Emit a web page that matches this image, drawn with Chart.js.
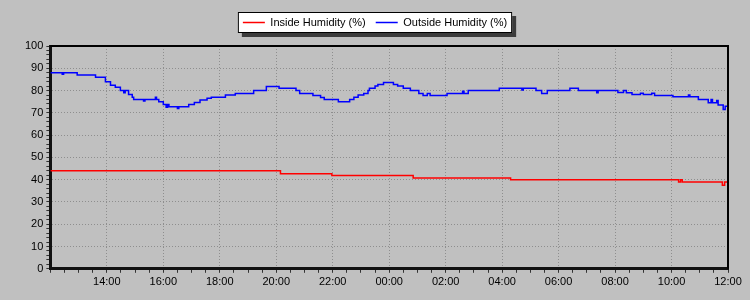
<!DOCTYPE html>
<html>
<head>
<meta charset="utf-8">
<script src="https://cdn.jsdelivr.net/npm/chart.js@4.4.1/dist/chart.umd.min.js"></script>
<style>
  html, body { margin: 0; padding: 0; background: #c0c0c0; }
  #wrap { width: 750px; height: 300px; }
</style>
</head>
<body>
<div id="wrap"><canvas id="humidityChart" width="750" height="300"></canvas></div>
<script>
// hours after 12:00 on day one (0 = 12:00, 24 = 12:00 next day)
const insideTimes = [0, 8.15, 9.97, 12.85, 16.3, 22.25, 22.32, 22.38, 23.8, 23.88, 24];
const insideValues = [44, 42.7, 41.9, 40.8, 40, 39, 40, 39, 37.5, 39, 39];

const outsideTimes = [
    0, 0.42, 0.47, 0.95, 1.6, 1.95, 2.13, 2.3, 2.48, 2.6,
    2.65, 2.77, 2.9, 2.95, 3.3, 3.35, 3.72, 3.76, 3.84, 4.0,
    4.1, 4.15, 4.2, 4.5, 4.55, 4.9, 5.1, 5.3, 5.55, 5.7,
    6.2, 6.55, 7.2, 7.65, 8.1, 8.7, 8.83, 9.3, 9.57, 9.7,
    10.2, 10.6, 10.75, 10.9, 11.1, 11.25, 11.3, 11.5, 11.6, 11.8,
    12.15, 12.3, 12.5, 12.75, 13.05, 13.2, 13.35, 13.45, 14.05, 14.6,
    14.65, 14.8, 15.9, 16.7, 16.75, 17.2, 17.4, 17.6, 18.4, 18.7,
    19.35, 19.4, 20.1, 20.3, 20.4, 20.6, 20.9, 21.0, 21.3, 21.4,
    22.05, 22.6, 22.65, 22.95, 23.3, 23.4, 23.45, 23.6, 23.65, 23.83,
    23.9, 24
];
const outsideValues = [
    88, 87.3, 88, 87, 86, 84, 82.4, 81.5, 80, 79,
    80, 78.2, 77, 76, 75.3, 76, 77, 76, 75, 73.7,
    72.5, 73.7, 72.7, 72, 72.7, 73.7, 74.6, 75.8, 76.5, 77,
    78, 78.7, 80, 81.8, 81, 80, 78.7, 77.8, 76.9, 76,
    75, 76, 77, 78, 78.7, 80, 81, 82, 82.7, 83.6,
    82.7, 82, 81, 80, 78.7, 77.8, 78.7, 77.8, 78.7, 79.7,
    78.7, 80, 81, 80.3, 81, 80, 78.7, 80, 81, 80,
    79, 80, 79.1, 80, 79, 78.2, 78.8, 78.2, 78.8, 77.8,
    77.2, 78, 77.2, 76, 74.5, 76, 74.5, 75.5, 73.5, 71.5,
    73, 73.5
];

const startHour = 12;
const yTickStep = 10;

function toPoints(times, values) {
    return times.map(function(t, i) { return { x: t, y: values[i] }; });
}

function clockLabel(h) {
    const hh = (startHour + h) % 24;
    return (hh < 10 ? '0' : '') + hh + ':00';
}

Chart.defaults.font.family = "'Liberation Sans', Arial, sans-serif";
Chart.defaults.font.size = 11;
Chart.defaults.color = '#000';

// white legend box with shadow + top/right frame of the plot area
const framePlugin = {
    id: 'framePlugin',
    beforeInit(chart) {
        // leave a bit more room under the legend
        const origFit = chart.legend.fit;
        chart.legend.fit = function() {
            origFit.call(this);
            this.height += 8;
        };
    },
    beforeDraw(chart) {
        const boxes = chart.legend.legendHitBoxes;
        if (!boxes || !boxes.length) return;
        const ctx = chart.ctx;
        const first = boxes[0];
        const last = boxes[boxes.length - 1];
        const x = first.left - 5;
        const y = first.top - 5;
        const w = last.left + last.width + 5 - x;
        const h = first.height + 10;
        ctx.save();
        ctx.fillStyle = '#3c3c3c';
        ctx.fillRect(x + 4, y + 4, w, h);
        ctx.fillStyle = '#fff';
        ctx.fillRect(x, y, w, h);
        ctx.strokeStyle = '#000';
        ctx.lineWidth = 1;
        ctx.strokeRect(x + 0.5, y + 0.5, w - 1, h - 1);
        ctx.restore();
    },
    afterDraw(chart) {
        const a = chart.chartArea;
        const ctx = chart.ctx;
        ctx.save();
        ctx.strokeStyle = '#000';
        ctx.lineWidth = 2;
        ctx.beginPath();
        ctx.moveTo(a.left, a.top);
        ctx.lineTo(a.right, a.top);
        ctx.lineTo(a.right, a.bottom);
        ctx.stroke();
        ctx.restore();
    }
};

const ctx = document.getElementById('humidityChart').getContext('2d');
new Chart(ctx, {
    type: 'line',
    data: {
        datasets: [
            {
                label: 'Inside Humidity (%)',
                data: toPoints(insideTimes, insideValues),
                borderColor: '#ff0000',
                backgroundColor: '#ff0000',
                borderWidth: 1.5,
                pointRadius: 0,
                stepped: true
            },
            {
                label: 'Outside Humidity (%)',
                data: toPoints(outsideTimes, outsideValues),
                borderColor: '#0000ff',
                backgroundColor: '#0000ff',
                borderWidth: 1.5,
                pointRadius: 0,
                stepped: true
            }
        ]
    },
    options: {
        responsive: false,
        animation: false,
        layout: { padding: { left: 22, right: 22, top: 7, bottom: 8 } },
        plugins: {
            legend: {
                position: 'top',
                labels: {
                    usePointStyle: true,
                    pointStyle: 'line',
                    pointStyleWidth: 22,
                    boxHeight: 11,
                    padding: 10,
                    color: '#000'
                }
            },
            tooltip: { enabled: false }
        },
        scales: {
            x: {
                type: 'linear',
                min: 0,
                max: 24,
                border: { display: true, color: '#111', width: 3, dash: [1, 2] },
                grid: {
                    color: function(c) {
                        const v = c.tick.value;
                        return (v % 2 === 0 && v > 0 && v < 24) ? '#8e8e8e' : 'rgba(0,0,0,0)';
                    },
                    tickColor: '#333',
                    tickLength: 4,
                    lineWidth: 1
                },
                ticks: {
                    stepSize: 0.5,
                    autoSkip: false,
                    maxRotation: 0,
                    padding: 3,
                    callback: function(v) {
                        return (v % 2 === 0 && v > 0) ? clockLabel(v) : '';
                    }
                }
            },
            y: {
                min: 0,
                max: 100,
                border: { display: true, color: '#111', width: 3, dash: [1, 2] },
                grid: {
                    color: function(c) {
                        const v = c.tick.value;
                        return (v % yTickStep === 0 && v > 0 && v < 100) ? '#8e8e8e' : 'rgba(0,0,0,0)';
                    },
                    tickColor: '#333',
                    tickLength: 4,
                    lineWidth: 1
                },
                ticks: {
                    stepSize: 2,
                    autoSkip: false,
                    padding: 3,
                    callback: function(v) {
                        return v % yTickStep === 0 ? v : '';
                    }
                }
            }
        }
    },
    plugins: [framePlugin]
});
</script>
</body>
</html>
